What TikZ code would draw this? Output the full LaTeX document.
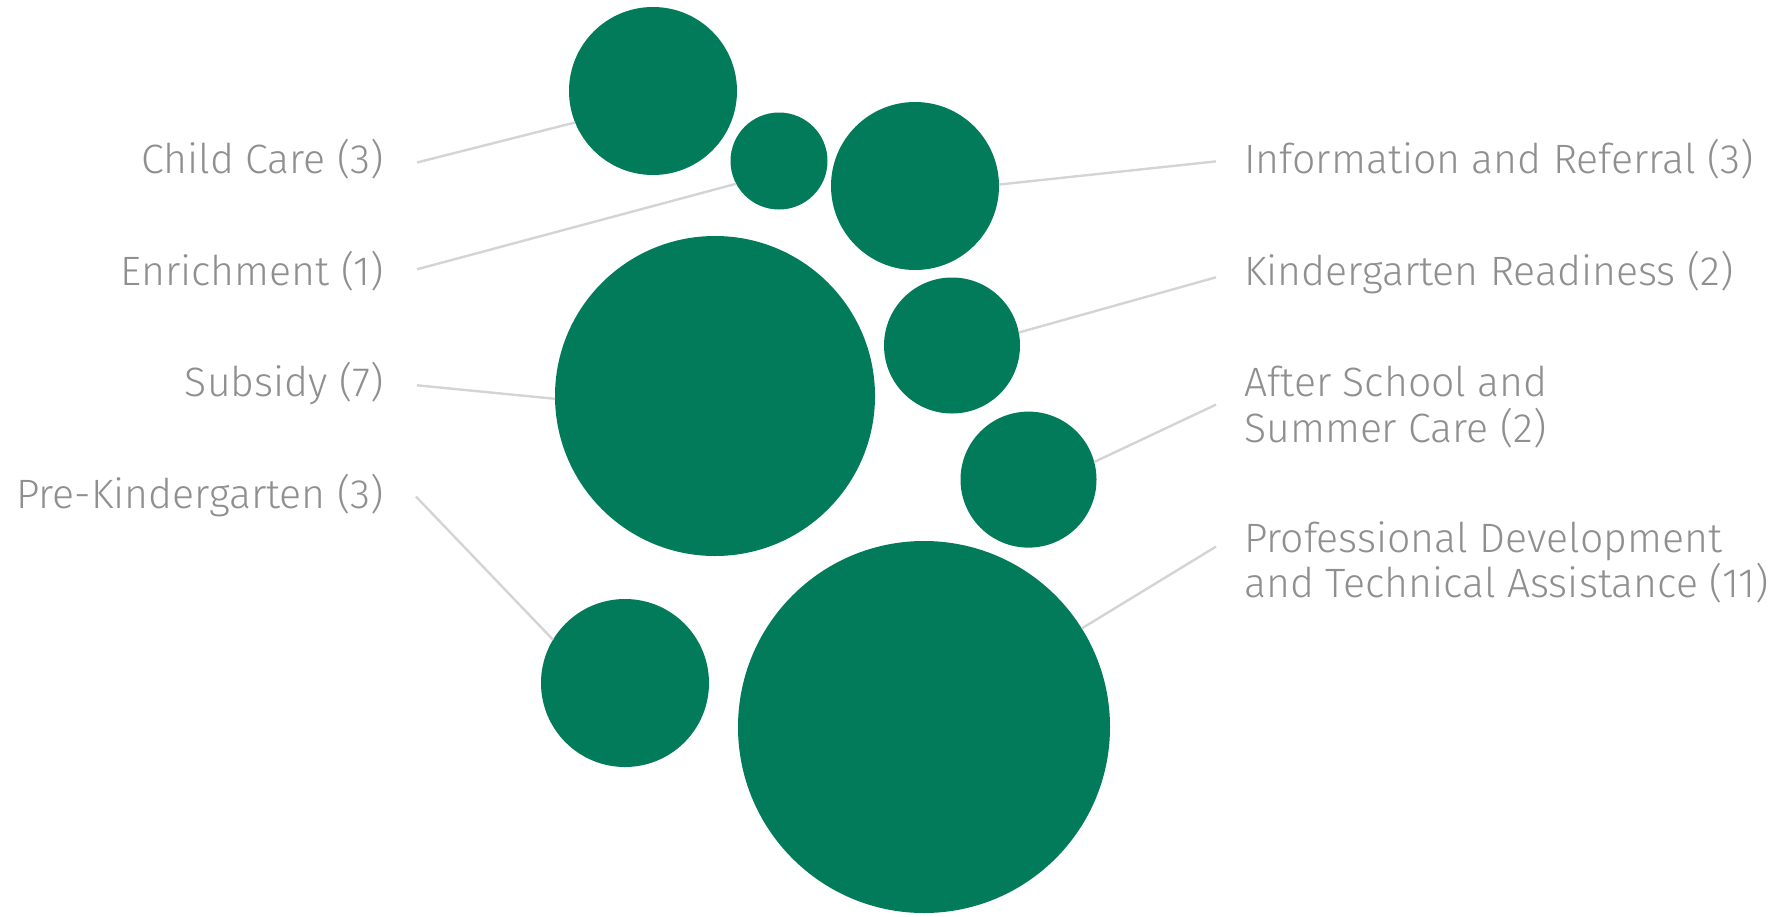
\documentclass[tikz,border=0pt]{standalone}
\usepackage{fontspec}
\setmainfont{Fira Sans}[UprightFont=* Light]
\definecolor{bubgreen}{RGB}{2,123,90}
\definecolor{labgray}{RGB}{143,143,143}
\definecolor{linegray}{RGB}{212,212,212}
\begin{document}
\begin{tikzpicture}[x=1pt,y=-1pt,
  bub/.style={circle,fill=bubgreen,draw=none,inner sep=0pt,outer sep=0pt},
  lab/.style={text=labgray,font={\fontsize{41}{45.5}\selectfont},inner sep=0pt,align=left},
  leader/.style={draw=linegray,line width=2.4pt}]
\useasboundingbox (0,0) rectangle (1782,916);
% bubbles
\node[bub,minimum size=168pt] (cc) at (653,91) {};
\node[bub,minimum size=97pt] (en) at (779,161) {};
\node[bub,minimum size=168pt] (ir) at (915,186) {};
\node[bub,minimum size=320pt] (sub) at (715,396) {};
\node[bub,minimum size=136pt] (kr) at (952,345.5) {};
\node[bub,minimum size=136pt] (as) at (1028.5,479.6) {};
\node[bub,minimum size=168pt] (pk) at (625,683) {};
\node[bub,minimum size=372pt] (pd) at (924,727) {};
% left labels
\node[lab,anchor=base east] (lcc) at (384,173) {Child Care (3)};
\node[lab,anchor=base east] (len) at (384,285) {Enrichment (1)};
\node[lab,anchor=base east] (lsub) at (384,396.5) {Subsidy (7)};
\node[lab,anchor=base east] (lpk) at (384,508) {Pre-Kindergarten (3)};
% right labels
\node[lab,anchor=base west] (lir) at (1244,173) {Information and Referral (3)};
\node[lab,anchor=base west] (lkr) at (1244,285) {Kindergarten Readiness (2)};
\node[lab,anchor=base west] (las) at (1244,442) {After School and\\Summer Care (2)};
\node[lab,anchor=base west] (lpd) at (1244,597.5) {Professional Development\\and Technical Assistance (11)};
% leader line ends
\coordinate (scc) at (417,162.5);
\coordinate (sen) at (417,269.3);
\coordinate (ssub) at (417,385.3);
\coordinate (spk) at (416,496.6);
\coordinate (sir) at (1216,161.4);
\coordinate (skr) at (1216,277.3);
\coordinate (sas) at (1216,404.6);
\coordinate (spd) at (1216,546.6);
% leaders
\draw[leader] (scc) -- (cc.202);
\draw[leader] (sen) -- (en.208.5);
\draw[leader] (ssub) -- (sub.181);
\draw[leader] (spk) -- (pk.149.8);
\draw[leader] (sir) -- (ir.1.5);
\draw[leader] (skr) -- (kr.11.3);
\draw[leader] (sas) -- (as.15.8);
\draw[leader] (spd) -- (pd.32);
\end{tikzpicture}
\end{document}
